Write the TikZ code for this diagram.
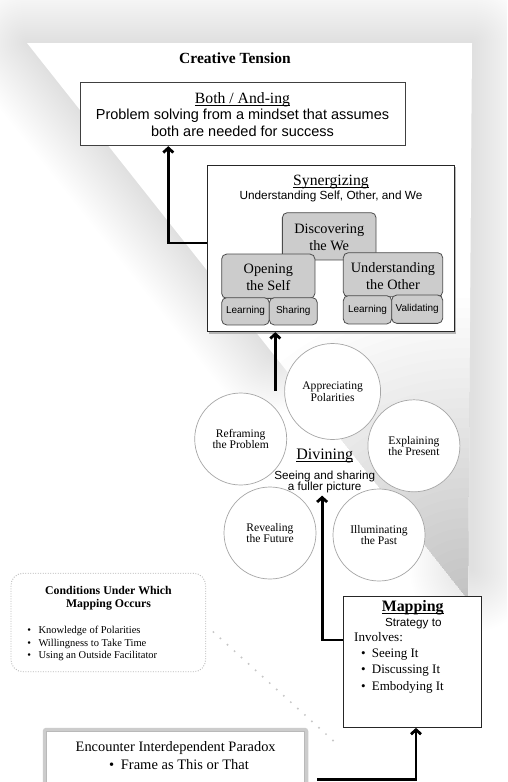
\documentclass[tikz,border=0pt]{standalone}
\usepackage{fontspec}
\setmainfont{Liberation Serif}
\newfontfamily\arial{Liberation Sans}
\usetikzlibrary{arrows.meta,shadows}
\newcommand{\fsz}[1]{\fontsize{#1}{#1}\selectfont}
\begin{document}
\begin{tikzpicture}[x=1pt,y=-1pt,
  conn/.style={line width=2.8pt,-{Straight Barb[length=4.5pt,width=10pt]}},
  bigbox/.style={draw=black!85, fill=white, line width=0.9pt, inner sep=0pt},
  gbox/.style={draw=black!70, fill=gray!40, rounded corners=5pt, line width=0.8pt, inner sep=0pt},
  circ/.style={circle, draw=gray!70, fill=white, line width=0.7pt, minimum size=92pt, inner sep=0pt, align=center, font=\fontsize{11.6}{11.5}\selectfont},
  txt/.style={inner sep=0pt, anchor=base},
  dotconn/.style={gray!45, line width=2.2pt, line cap=round, dash pattern=on 0pt off 9.5pt},
]
\useasboundingbox (0,0) rectangle (507,782);
\clip (0,0) rectangle (507,782);
% ---------- background page with soft shadow ----------
\fill[white] (0,0) rectangle (507,782);
\foreach \w in {4,8,...,124}
  \draw[black, opacity=0.0052, line width=\w pt, line join=round, line cap=round]
    (272,352) -- (27,43) -- (472,43) -- (472,570);
\begin{scope}
  \clip (27,43) -- (472,43) -- (468,600) -- cycle;
  \fill[white] (0,0) rectangle (507,782);
  \foreach \r in {10,20,...,300}
    \fill[black, opacity=0.0075] (466,598) circle (\r);
\end{scope}

% ---------- title ----------
\node[txt, font=\bfseries\fsz{15.5}] (title) at (235,63.5) {Creative Tension};

% ---------- Both / And-ing ----------
\node[bigbox, draw=black!75, minimum width=325pt, minimum height=63pt] (both) at (242.5,114.2) {};
\node[txt, font=\fsz{15.7}] (bothT) at (242.5,103.3) {\underline{\smash{Both / And-ing}}};
\node[txt, font=\arial\fsz{14.5}] (bothA) at (242.5,119.3) {Problem solving from a mindset that assumes};
\node[txt, font=\arial\fsz{14.5}] (bothB) at (242.5,136.7) {both are needed for success};

% ---------- Synergizing ----------
\node[bigbox, minimum width=247pt, minimum height=166.7pt,
      drop shadow={shadow xshift=2pt, shadow yshift=-2pt, fill=gray!70, opacity=0.8}] (syn) at (330.8,248.3) {};
\node[txt, font=\fsz{15.7}] (synT) at (331,185.7) {\underline{\smash{Synergizing}}};
\node[txt, font=\arial\fsz{11.8}] (synS) at (331,199.3) {Understanding Self, Other, and We};

\node[gbox, minimum width=93.7pt, minimum height=47.3pt] (disc) at (329.2,236.3) {};
\node[txt, font=\fsz{14.3}] (discA) at (329.2,233.3) {Discovering};
\node[txt, font=\fsz{14.3}] (discB) at (329.2,250) {the We};

\node[gbox, minimum width=93.3pt, minimum height=44.3pt] (open) at (268.3,276.2) {};
\node[txt, font=\fsz{14.3}] (openA) at (268.3,273.3) {Opening};
\node[txt, font=\fsz{14.3}] (openB) at (268.3,290) {the Self};
\node[gbox, minimum width=47.6pt, minimum height=27.3pt, font=\arial\fsz{10}] (learnA) at (245.5,311.3) {Learning};
\node[gbox, minimum width=48pt, minimum height=27.3pt, font=\arial\fsz{10}] (share) at (293.3,311.3) {Sharing};

\node[gbox, minimum width=99.4pt, minimum height=44pt] (under) at (393,274.7) {};
\node[txt, font=\fsz{14.3}] (underA) at (393,272.3) {Understanding};
\node[txt, font=\fsz{14.3}] (underB) at (393,289.3) {the Other};
\node[gbox, minimum width=48.4pt, minimum height=28.3pt, font=\arial\fsz{10}] (learnB) at (367.5,309.8) {Learning};
\node[gbox, minimum width=51pt, minimum height=28.3pt, font=\arial\fsz{10}] (valid) at (417.2,309.2) {Validating};

% ---------- Divining circles ----------
\node[circ, minimum size=96pt] (appr) at (332.6,391.5) {Appreciating\\Polarities};
\node[circ] (refr) at (240.7,439) {Reframing\\the Problem};
\node[circ] (expl) at (413.9,445.8) {Explaining\\the Present};
\node[circ] (reve) at (270,533) {Revealing\\the Future};
\node[circ] (illu) at (379,535) {Illuminating\\the  Past};

\node[txt, font=\fsz{16}] (divT) at (324.7,459.5) {\underline{\smash{Divining}}};
\node[txt, font=\arial\fsz{11.7}] (divA) at (324.7,479) {Seeing and sharing};
\node[txt, font=\arial\fsz{11.7}] (divB) at (324.7,490) {a fuller picture};

% ---------- Conditions ----------
\node[draw=gray!55, dash pattern=on 0.9pt off 1.6pt, line width=0.9pt, rounded corners=12pt,
      minimum width=194.7pt, minimum height=98.4pt, inner sep=0pt] (cond) at (108.3,622.5) {};
\node[txt, font=\bfseries\fsz{11.8}] (condA) at (108.5,594.3) {Conditions Under Which};
\node[txt, font=\bfseries\fsz{11.8}] (condB) at (108.5,607.7) {Mapping Occurs};
\node[txt, font=\fsz{10.5}] (cb1) at (29.3,633.3) {•};
\node[txt, font=\fsz{10.5}] (cb2) at (29.3,646) {•};
\node[txt, font=\fsz{10.5}] (cb3) at (29.3,658.3) {•};
\node[txt, anchor=base west, font=\fsz{10.5}] (ct1) at (38.3,633.3) {Knowledge of Polarities};
\node[txt, anchor=base west, font=\fsz{10.5}] (ct2) at (38.3,646) {Willingness to Take Time};
\node[txt, anchor=base west, font=\fsz{10.5}] (ct3) at (38.3,658.3) {Using an Outside Facilitator};

% ---------- Mapping ----------
\node[bigbox, line width=1.1pt, minimum width=138.4pt, minimum height=130.6pt] (map) at (412.5,662) {};
\node[txt, font=\bfseries\fsz{15.9}] (mapT) at (412.7,611.7) {\underline{\smash{Mapping}}};
\node[txt, font=\arial\fsz{11.7}] (mapS) at (413.3,626) {Strategy to};
\node[txt, anchor=base west, font=\fsz{13.1}] (mapI) at (354,641.7) {Involves:};
\node[txt, font=\fsz{13}] (mb1) at (363.3,657.3) {•};
\node[txt, font=\fsz{13}] (mb2) at (363.3,673.3) {•};
\node[txt, font=\fsz{13}] (mb3) at (363.3,690) {•};
\node[txt, anchor=base west, font=\fsz{13}] (mt1) at (371.7,657.3) {Seeing It};
\node[txt, anchor=base west, font=\fsz{13}] (mt2) at (371.7,673.3) {Discussing It};
\node[txt, anchor=base west, font=\fsz{13}] (mt3) at (371.7,690) {Embodying It};

% ---------- Encounter ----------
\node[draw=gray!40, line width=3.3pt, rounded corners=2pt, fill=white, minimum width=262.2pt,
      minimum height=62pt, inner sep=0pt] (enc) at (175.5,760.4) {};
\draw[gray!55, line width=0.9pt] ([xshift=3.4pt,yshift=-3.4pt]enc.north west) rectangle ([xshift=-3.4pt,yshift=3.4pt]enc.south east);
\node[txt, font=\fsz{14.4}] (encA) at (175.7,751) {Encounter Interdependent Paradox};
\node[txt, font=\fsz{14.5}] (encb) at (111.7,769) {•};
\node[txt, anchor=base west, font=\fsz{14.5}] (encB) at (120.7,769) {Frame as This or That};

% ---------- connectors ----------
\coordinate (synfoot) at (275.3,391);
\coordinate (dotend) at (338,745);
\draw[conn] ([yshift=5.3pt]syn.west) -| ([xshift=-74.2pt]both.south);
\draw[conn] (synfoot) -- (synfoot |- syn.south);
\draw[conn] ([yshift=22pt]map.west) -| ([xshift=-2.6pt,yshift=-3pt]divB.south);
\draw[conn] ([xshift=9pt,yshift=-19.3pt]enc.east) -| ([xshift=3.5pt]map.south);
\draw[dotconn] ([xshift=7.3pt,yshift=-9.5pt]cond.east) -- (dotend);
\end{tikzpicture}
\end{document}
